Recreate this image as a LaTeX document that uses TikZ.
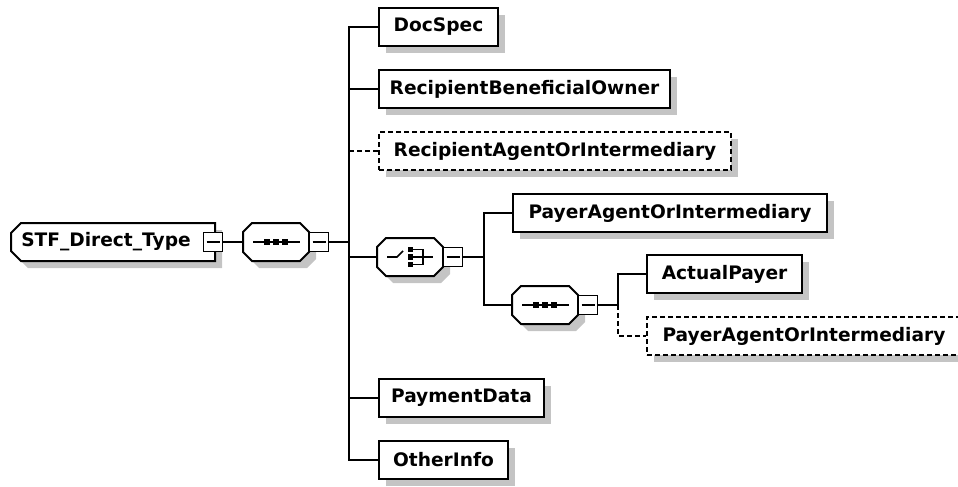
\documentclass[tikz,border=0pt]{standalone}
\usepackage{fontspec}
\setmainfont{DejaVu Sans}
\usetikzlibrary{shadows}
\definecolor{shadowc}{HTML}{C4C4C4}
\tikzset{
  elem/.style={draw, line width=2pt, fill=white, rectangle, anchor=west,
    minimum height=38pt, inner sep=0pt, font=\fontsize{18.6}{20}\selectfont\bfseries,
    drop shadow={shadow xshift=7pt, shadow yshift=-7pt, opacity=1, fill=shadowc}},
  opt/.style={dash pattern=on 5pt off 3pt},
  conn/.style={line width=1.9pt},
  boxline/.style={line width=2pt, fill=white},
  iconline/.style={line width=1.7pt},
  anchorbox/.style={inner sep=0pt, minimum height=38pt},
  expander/.style={draw, line width=1.9pt, fill=white, minimum size=19pt, inner sep=0pt,
    path picture={\draw[line width=1.6pt] ([xshift=3pt]path picture bounding box.west) -- ([xshift=-3pt]path picture bounding box.east);}},
}
% octagon outline: centre x, centre y, half width
\newcommand\octcoords[3]{({#1-#3+9},{#2-19}) -- ({#1+#3-9},{#2-19}) -- ({#1+#3},{#2-10}) -- ({#1+#3},{#2+10}) -- ({#1+#3-9},{#2+19}) -- ({#1-#3+9},{#2+19}) -- ({#1-#3},{#2+10}) -- ({#1-#3},{#2-10}) -- cycle}
\newcommand\octnode[4]{%
  \fill[shadowc] \octcoords{#2+7}{#3+7}{#4};
  \draw[boxline] \octcoords{#2}{#3}{#4};
  \node[anchorbox, minimum width={2*#4}] (#1) at (#2,#3) {};}
\newcommand\stfcoords[1]{({21+#1},{223+#1}) -- ({215+#1},{223+#1}) -- ({215+#1},{261+#1}) -- ({21+#1},{261+#1}) -- ({11+#1},{251+#1}) -- ({11+#1},{233+#1}) -- cycle}
\newcommand\seqicon[2]{%
  \draw[iconline] ({#1-23},#2) -- ({#1+24},#2);
  \foreach \d in {-9,0,9} {\fill ({#1+\d-3},{#2-3}) rectangle ({#1+\d+3},{#2+3});}}
\begin{document}
\begin{tikzpicture}[x=1pt,y=-1pt]
\useasboundingbox (0,0) rectangle (958,487);
% root element
\fill[shadowc] \stfcoords{7};
\draw[boxline] \stfcoords{0};
\node[anchorbox, font=\fontsize{18.6}{20}\selectfont\bfseries] (stf) at (106,242) {STF\_Direct\_Type};
\node[expander] (e0) at (213,242) {};
% sequence 1
\octnode{seq1}{276}{242}{33}
\seqicon{276}{242}
\node[expander] (e1) at (319,242) {};
% choice
\octnode{choice}{410}{257}{33}
\draw[iconline] (387,257) -- (397,257) -- (403,251);
\foreach \yy in {249.5,257,264.5} {\fill (408,{\yy-2.6}) rectangle (413,{\yy+2.6});}
\draw[iconline] (413,249.5) -- (423,249.5) -- (423,264.5) -- (413,264.5);
\draw[iconline] (413,257) -- (433,257);
\node[expander] (e2) at (453,257) {};
% sequence 2
\octnode{seq2}{545}{305}{33}
\seqicon{545}{305}
\node[expander] (e3) at (588,305) {};
% elements
\node[elem, minimum width=119pt] (docspec) at (378,27) {DocSpec};
\node[elem, minimum width=291pt] (rbo) at (378,89) {RecipientBeneficialOwner};
\node[elem, opt, minimum width=352pt] (rai) at (378,151) {RecipientAgentOrIntermediary};
\node[elem, minimum width=314pt] (pai1) at (512,213) {PayerAgentOrIntermediary};
\node[elem, minimum width=155pt] (actual) at (646,274) {ActualPayer};
\node[elem, opt, minimum width=314pt] (pai2) at (646,336) {PayerAgentOrIntermediary};
\node[elem, minimum width=165pt] (paydata) at (378,398) {PaymentData};
\node[elem, minimum width=129pt] (other) at (378,460) {OtherInfo};
% connectors
\draw[conn] (e0.east) -- (seq1.west);
\coordinate (b1) at (349,242);
\draw[conn] (e1.east) -- (b1);
\draw[conn] (b1) |- (docspec.west);
\draw[conn] (b1) |- (rbo.west);
\draw[conn, opt] (rai.west -| b1) -- (rai.west);
\draw[conn] (b1) |- (choice.west);
\draw[conn] (b1) |- (paydata.west);
\draw[conn] (b1) |- (other.west);
\coordinate (b2) at (484,257);
\draw[conn] (e2.east) -- (b2);
\draw[conn] (b2) |- (pai1.west);
\draw[conn] (b2) |- (seq2.west);
\coordinate (b3) at (618,305);
\draw[conn] (e3.east) -- (b3) |- (actual.west);
\draw[conn, opt] (b3) |- (pai2.west);
\end{tikzpicture}
\end{document}
